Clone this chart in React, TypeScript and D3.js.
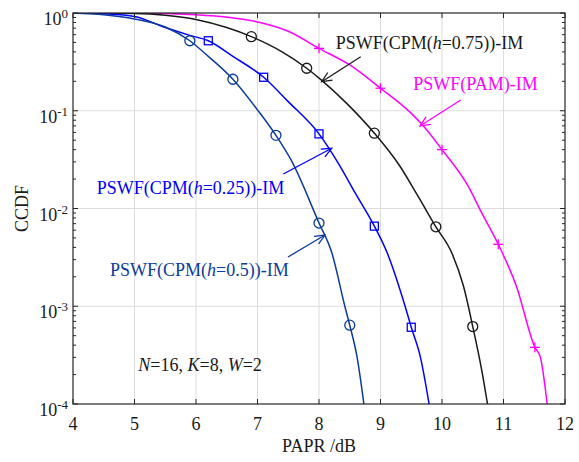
import React from "react"
import * as d3 from "d3"

const width = 579
const height = 462
const margin = { top: 13, right: 14, bottom: 58, left: 73 }
const innerW = width - margin.left - margin.right
const innerH = height - margin.top - margin.bottom

const xTicks = [4, 5, 6, 7, 8, 9, 10, 11, 12]
const yExps = [0, -1, -2, -3, -4]

// PSWF(CPM(h=0.5))-IM
const h05X = [4.0, 4.5, 5.0, 5.5, 5.9, 6.2, 6.6, 7.0, 7.3, 7.55, 8.0, 8.21, 8.42, 8.5, 8.62, 8.73]
const h05Y = [1.0, 0.96, 0.87, 0.72, 0.52, 0.36, 0.21, 0.102, 0.056, 0.031, 0.0071, 0.0035, 0.001, 0.00064, 0.0003, 0.0001]
const h05MX = [5.9, 6.6, 7.3, 8.0, 8.5]
const h05MY = [0.52, 0.21, 0.056, 0.0071, 0.00064]

// PSWF(CPM(h=0.25))-IM
const h025X = [4.0, 4.5, 5.0, 5.5, 5.9, 6.2, 6.6, 7.1, 7.5, 8.0, 8.3, 8.6, 8.9, 9.11, 9.4, 9.5, 9.65, 9.79]
const h025Y = [1.0, 0.98, 0.92, 0.71, 0.59, 0.52, 0.36, 0.22, 0.124, 0.058, 0.03, 0.014, 0.0066, 0.0035, 0.001, 0.00061, 0.0003, 0.0001]
const h025MX = [6.2, 7.1, 8.0, 8.9, 9.5]
const h025MY = [0.52, 0.22, 0.058, 0.0066, 0.00061]

// PSWF(CPM(h=0.75))-IM
const h075X = [4.0, 5.0, 5.5, 6.0, 6.5, 6.9, 7.4, 7.8, 8.04, 8.45, 8.9, 9.3, 9.6, 9.9, 10.16, 10.35, 10.5, 10.645, 10.74]
const h075Y = [1.0, 0.99, 0.95, 0.86, 0.71, 0.573, 0.4, 0.272, 0.206, 0.119, 0.059, 0.028, 0.0137, 0.0065, 0.0035, 0.0016, 0.00062, 0.000224, 0.0001]
const h075MX = [6.9, 7.8, 8.9, 9.9, 10.5]
const h075MY = [0.573, 0.272, 0.059, 0.0065, 0.00062]

// PSWF(PAM)-IM
const pamX = [4.0, 5.0, 6.0, 6.55, 7.04, 7.5, 8.0, 8.5, 9.0, 9.5, 9.67, 10.0, 10.43, 10.62, 10.915, 11.21, 11.51, 11.6, 11.71]
const pamY = [1.0, 1.0, 0.96, 0.9, 0.8, 0.65, 0.435, 0.294, 0.17, 0.094, 0.073, 0.04, 0.0167, 0.0097, 0.0043, 0.0016, 0.00038, 0.0003, 0.0001]
const pamMX = [8.0, 9.0, 10.0, 10.915, 11.51]
const pamMY = [0.435, 0.17, 0.04, 0.0043, 0.00038]

const black = "#1a1a1a"
const blue = "#0000ff"
const darkBlue = "#0b3c9e"
const magenta = "#ff00ff"

const x = d3.scaleLinear().domain([4, 12]).range([0, innerW])
const y = d3.scaleLog().domain([1e-4, 1]).range([innerH, 0])

const line = d3.line<[number, number]>()
  .x(d => x(d[0]))
  .y(d => y(d[1]))
  .curve(d3.curveMonotoneX)

const zip = (xs: number[], ys: number[]) => xs.map((v, i) => [v, ys[i]] as [number, number])

const minorTicks: number[] = []
for (let e = -4; e < 0; e++) {
  for (let k = 2; k <= 9; k++) minorTicks.push(k * Math.pow(10, e))
}

const Arrow = ({ x1, y1, x2, y2, color }: { x1: number; y1: number; x2: number; y2: number; color: string }) => {
  const a = Math.atan2(y2 - y1, x2 - x1)
  const len = 11
  const sp = 0.42
  const p1 = [x2 - len * Math.cos(a - sp), y2 - len * Math.sin(a - sp)]
  const p2 = [x2 - len * Math.cos(a + sp), y2 - len * Math.sin(a + sp)]
  return (
    <g stroke={color} strokeWidth={1.3} fill="none">
      <line x1={x1} y1={y1} x2={x2} y2={y2} />
      <polyline points={`${p1[0]},${p1[1]} ${x2},${y2} ${p2[0]},${p2[1]}`} />
    </g>
  )
}

const Marker = ({ cx, cy, type, color }: { cx: number; cy: number; type: string; color: string }) => {
  if (type === "circle") return <circle cx={cx} cy={cy} r={5} fill="none" stroke={color} strokeWidth={1.3} />
  if (type === "square") return <rect x={cx - 4} y={cy - 4} width={8} height={8} fill="none" stroke={color} strokeWidth={1.3} />
  return (
    <g stroke={color} strokeWidth={1.3}>
      <line x1={cx - 5} y1={cy} x2={cx + 5} y2={cy} />
      <line x1={cx} y1={cy - 5} x2={cx} y2={cy + 5} />
    </g>
  )
}

const series = [
  { xs: pamX, ys: pamY, mx: pamMX, my: pamMY, color: magenta, marker: "plus" },
  { xs: h075X, ys: h075Y, mx: h075MX, my: h075MY, color: black, marker: "circle" },
  { xs: h025X, ys: h025Y, mx: h025MX, my: h025MY, color: blue, marker: "square" },
  { xs: h05X, ys: h05Y, mx: h05MX, my: h05MY, color: darkBlue, marker: "circle" },
]

const font = "'Liberation Serif', 'Times New Roman', serif"
const axisColor = "#262626"

export default function App() {
  return (
    <svg width={width} height={height} style={{ position: "absolute", left: 0, top: 0, background: "#fff" }} fontFamily={font}>
      <rect width={width} height={height} fill="#fff" />
      <defs>
        <clipPath id="plot">
          <rect width={innerW} height={innerH} />
        </clipPath>
      </defs>
      <g transform={`translate(${margin.left},${margin.top})`}>
        {/* grid */}
        {xTicks.slice(1, -1).map(t => (
          <line key={"gx" + t} x1={x(t)} x2={x(t)} y1={0} y2={innerH} stroke="#dcdcdc" strokeWidth={1} />
        ))}
        {yExps.slice(1, -1).map(e => (
          <line key={"gy" + e} x1={0} x2={innerW} y1={y(Math.pow(10, e))} y2={y(Math.pow(10, e))} stroke="#dcdcdc" strokeWidth={1} />
        ))}

        {/* curves */}
        <g clipPath="url(#plot)">
          {series.map((s, i) => (
            <path key={i} d={line(zip(s.xs, s.ys)) || ""} fill="none" stroke={s.color} strokeWidth={1.5} />
          ))}
        </g>
        {series.map((s, i) => (
          <g key={"m" + i}>
            {s.mx.map((v, j) => (
              <Marker key={j} cx={x(v)} cy={y(s.my[j])} type={s.marker} color={s.color} />
            ))}
          </g>
        ))}

        {/* ticks */}
        <g stroke={axisColor} strokeWidth={1}>
          {xTicks.map(t => (
            <g key={"tx" + t}>
              <line x1={x(t)} x2={x(t)} y1={innerH} y2={innerH - 5} />
              <line x1={x(t)} x2={x(t)} y1={0} y2={5} />
            </g>
          ))}
          {yExps.map(e => (
            <g key={"ty" + e}>
              <line x1={0} x2={5} y1={y(Math.pow(10, e))} y2={y(Math.pow(10, e))} />
              <line x1={innerW} x2={innerW - 5} y1={y(Math.pow(10, e))} y2={y(Math.pow(10, e))} />
            </g>
          ))}
          {minorTicks.map((t, i) => (
            <g key={"mt" + i}>
              <line x1={0} x2={3} y1={y(t)} y2={y(t)} />
              <line x1={innerW} x2={innerW - 3} y1={y(t)} y2={y(t)} />
            </g>
          ))}
        </g>
        <rect width={innerW} height={innerH} fill="none" stroke={axisColor} strokeWidth={1.2} />

        {/* tick labels */}
        {xTicks.map(t => (
          <text key={"lx" + t} x={x(t)} y={innerH + 26} textAnchor="middle" fontSize={18} fill="#1a1a1a">{t}</text>
        ))}
        {yExps.map(e => (
          <text key={"ly" + e} x={-5} y={y(Math.pow(10, e)) + 12} textAnchor="end" fontSize={18} fill="#1a1a1a">
            10<tspan dy={-7} fontSize={13}>{e}</tspan>
          </text>
        ))}
      </g>

      {/* axis titles */}
      <text x={margin.left + innerW / 2} y={452} textAnchor="middle" fontSize={18} fill="#1a1a1a">PAPR /dB</text>
      <text transform={`translate(28,${margin.top + innerH / 2}) rotate(-90)`} textAnchor="middle" fontSize={18} fill="#1a1a1a">CCDF</text>

      {/* annotations */}
      <text x={335.7} y={49} fontSize={18} fill={black}>PSWF(CPM(<tspan fontStyle="italic">h</tspan>=0.75))-IM</text>
      <Arrow x1={360.7} y1={56.7} x2={321.7} y2={81.7} color={black} />

      <text x={413.3} y={90} fontSize={18} fill={magenta}>PSWF(PAM)-IM</text>
      <Arrow x1={460.7} y1={100} x2={420} y2={126} color={magenta} />

      <text x={96.7} y={194} fontSize={18} fill={blue}>PSWF(CPM(<tspan fontStyle="italic">h</tspan>=0.25))-IM</text>
      <Arrow x1={283.3} y1={174} x2={331.7} y2={148.3} color={blue} />

      <text x={110} y={276} fontSize={18} fill={darkBlue}>PSWF(CPM(<tspan fontStyle="italic">h</tspan>=0.5))-IM</text>
      <Arrow x1={288} y1={257} x2={325} y2={235} color={darkBlue} />

      <text x={138.3} y={370.7} fontSize={18} fill={black}>
        <tspan fontStyle="italic">N</tspan>=16, <tspan fontStyle="italic">K</tspan>=8, <tspan fontStyle="italic">W</tspan>=2
      </text>
    </svg>
  )
}
